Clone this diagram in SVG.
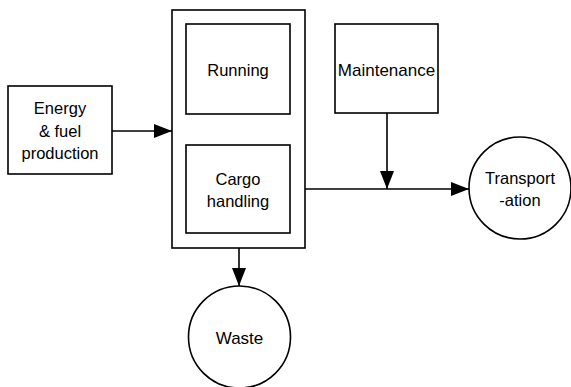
<svg xmlns="http://www.w3.org/2000/svg" width="571" height="387" viewBox="0 0 571 387">
<style>
.box{fill:#fff;stroke:#000;stroke-width:1.6}
.ln{fill:none;stroke:#000;stroke-width:1.6}
text{font-family:"Liberation Sans",Arial,sans-serif;font-size:16.5px;fill:#000;text-anchor:middle;dominant-baseline:central}
</style>
<defs>
<marker id="ah" markerWidth="18" markerHeight="14" refX="18" refY="7" orient="auto" markerUnits="userSpaceOnUse">
<path d="M0,0 L18,7 L0,14 Z" fill="#000"/>
</marker>
</defs>
<rect width="571" height="387" fill="#fff"/>
<g id="energy"><rect class="box" x="8" y="86" width="104" height="88"/>
<text x="60" y="108">Energy</text><text x="60" y="131">&amp; fuel</text><text x="60" y="153">production</text></g>
<g id="ship"><rect class="box" x="172" y="10" width="133" height="238"/></g>
<g id="running"><rect class="box" x="186" y="24" width="104" height="90"/><text x="238" y="70">Running</text></g>
<g id="cargo"><rect class="box" x="186" y="145" width="104" height="88"/><text x="238" y="179">Cargo</text><text x="238" y="201">handling</text></g>
<g id="maintenance"><rect class="box" x="335" y="24" width="103" height="89"/><text x="386.5" y="70" style="font-size:17px">Maintenance</text></g>
<g id="transport"><circle class="box" cx="520" cy="188" r="51"/><text x="520" y="178">Transport</text><text x="520" y="200">-ation</text></g>
<g id="waste"><circle class="box" cx="239.5" cy="337" r="51"/><text x="239.5" y="338" style="font-size:17px">Waste</text></g>
<g id="connectors">
<line class="ln" x1="112" y1="131" x2="172" y2="131" marker-end="url(#ah)"/>
<line class="ln" x1="387" y1="113" x2="387" y2="189" marker-end="url(#ah)"/>
<line class="ln" x1="305" y1="189" x2="469" y2="189" marker-end="url(#ah)"/>
<line class="ln" x1="239" y1="248" x2="239" y2="286" marker-end="url(#ah)"/>
</g>
</svg>
